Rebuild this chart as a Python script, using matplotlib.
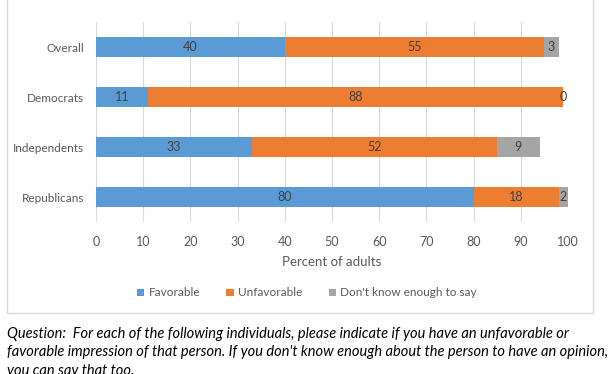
import matplotlib.pyplot as plt
from matplotlib.patches import Rectangle

# survey groups, top to bottom
groups = ['Overall', 'Democrats', 'Independents', 'Republicans']
favorable = [40, 11, 33, 80]
unfavorable = [55, 88, 52, 18]
dont_know = [3, 0, 9, 2]

series_names = ['Favorable', 'Unfavorable', "Don't know enough to say"]
colors = ['#5B9BD5', '#ED7D31', '#A5A5A5']
x_ticks = [0, 10, 20, 30, 40, 50, 60, 70, 80, 90, 100]

question = ("Question:  For each of the following individuals, please indicate if you have an unfavorable or\n"
            "favorable impression of that person. If you don't know enough about the person to have an opinion,\n"
            "you can say that too.")

plt.rcParams['font.family'] = ['Lato', 'DejaVu Sans']
TXT = '#595959'

fig = plt.figure(figsize=(6.12, 3.74), dpi=100)
ax = fig.add_axes([96 / 612, 1 - 222 / 374, 472 / 612, 200 / 374])

y = list(range(len(groups)))
left = [0] * len(groups)
for vals, name, col in zip([favorable, unfavorable, dont_know], series_names, colors):
    ax.barh(y, vals, left=left, height=0.41, color=col, label=name, zorder=2)
    for yi, l, v in zip(y, left, vals):
        ax.text(l + v / 2, yi, str(v), ha='center', va='center',
                fontsize=9, color='#404040', zorder=3)
    left = [a + b for a, b in zip(left, vals)]

ax.set_xlim(0, 100)
ax.set_ylim(3.5, -0.5)
ax.set_yticks(y)
ax.set_yticklabels(groups)
ax.set_xticks(x_ticks)
ax.tick_params(axis='both', length=0, labelsize=9, labelcolor=TXT)
ax.tick_params(axis='y', pad=8.5, labelsize=8.5)
ax.tick_params(axis='x', pad=10)
ax.xaxis.grid(True, color='#D9D9D9', linewidth=0.8, zorder=0)
ax.set_axisbelow(True)
for s in ax.spines.values():
    s.set_visible(False)
ax.set_xlabel('Percent of adults', fontsize=9.5, color=TXT, labelpad=6)

fig.legend(loc='center', bbox_to_anchor=(307 / 612, 1 - 293 / 374), ncol=3,
           frameon=False, fontsize=8.5, handlelength=0.6, handleheight=0.6,
           columnspacing=2.2, handletextpad=0.4, labelcolor=TXT)

# chart frame (top is cut off in the picture)
fig.patches.append(Rectangle((6.5 / 612, 1 - 313 / 374), 586.5 / 612, 320 / 374,
                             transform=fig.transFigure, fill=False,
                             edgecolor='#D9D9D9', linewidth=1))

fig.text(7 / 612, 1 - 327 / 374, question, ha='left', va='top', fontsize=10.5,
         style='italic', color='black', linespacing=1.4)

fig.savefig('out.png', dpi=100)
